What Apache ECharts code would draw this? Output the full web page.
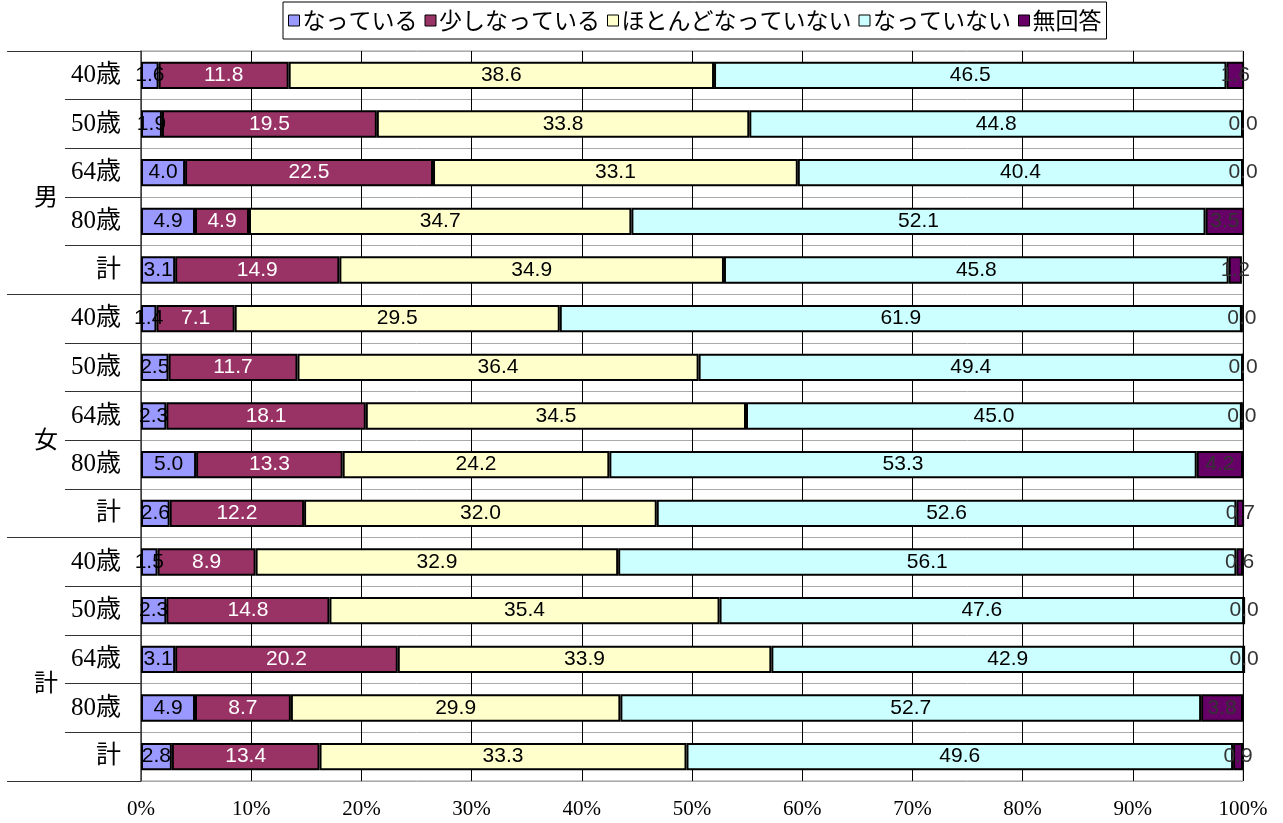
<!DOCTYPE html>
<html>
<head>
<meta charset="utf-8">
<script src="https://cdn.jsdelivr.net/npm/echarts@6/dist/echarts.min.js"></script>
<style>
  html, body { margin: 0; padding: 0; background: #fff; }
  #chart { width: 1283px; height: 823px; }
</style>
</head>
<body>
<div id="chart"></div>
<script>
// 年齢区分（上から順）
const ages = ['40歳', '50歳', '64歳', '80歳', '計',
              '40歳', '50歳', '64歳', '80歳', '計',
              '40歳', '50歳', '64歳', '80歳', '計'];
const groups = ['男', '女', '計'];
const seriesNames = ['なっている', '少しなっている', 'ほとんどなっていない', 'なっていない', '無回答'];
const xTicks = [0, 10, 20, 30, 40, 50, 60, 70, 80, 90, 100];

// 各回答の割合（%）
const natteiru      = [1.6, 1.9, 4.0, 4.9, 3.1,  1.4, 2.5, 2.3, 5.0, 2.6,  1.5, 2.3, 3.1, 4.9, 2.8];
const sukoshi       = [11.8, 19.5, 22.5, 4.9, 14.9,  7.1, 11.7, 18.1, 13.3, 12.2,  8.9, 14.8, 20.2, 8.7, 13.4];
const hotondo       = [38.6, 33.8, 33.1, 34.7, 34.9,  29.5, 36.4, 34.5, 24.2, 32.0,  32.9, 35.4, 33.9, 29.9, 33.3];
const natteinai     = [46.5, 44.8, 40.4, 52.1, 45.8,  61.9, 49.4, 45.0, 53.3, 52.6,  56.1, 47.6, 42.9, 52.7, 49.6];
const mukaitou      = [1.6, 0, 0, 3.5, 1.2,  0, 0, 0, 4.2, 0.7,  0.6, 0, 0, 3.8, 0.9];

const values = [natteiru, sukoshi, hotondo, natteinai, mukaitou];
const colors = ['#9999ff', '#993366', '#ffffcc', '#ccffff', '#660066'];
const labelColors = ['#000', '#fff', '#000', '#000', '#333'];

const serifFont = "'Liberation Serif', 'Noto Sans CJK JP', serif";
const cjkFont = "'Noto Sans CJK JP', sans-serif";

const chart = echarts.init(document.getElementById('chart'));

const series = seriesNames.map((name, i) => ({
  name: name,
  type: 'bar',
  stack: 'total',
  barWidth: '56%',
  clip: false,
  data: values[i],
  itemStyle: { color: colors[i], borderColor: '#000', borderWidth: 2 },
  label: {
    show: true,
    position: 'inside',
    color: labelColors[i],
    fontFamily: "'Liberation Sans', Arial, sans-serif",
    fontSize: 21,
    formatter: p => p.value.toFixed(1)
  },
  emphasis: { disabled: true }
}));

chart.setOption({
  animation: false,
  legend: {
    data: seriesNames,
    top: 2,
    left: 283,
    itemWidth: 11,
    itemHeight: 11,
    itemGap: 7,
    padding: [7, 5],
    borderColor: '#000',
    borderWidth: 1,
    icon: 'rect',
    itemStyle: { borderColor: '#000', borderWidth: 1 },
    textStyle: { fontFamily: cjkFont, fontSize: 23, color: '#000', padding: [0, 0, 0, -2] }
  },
  grid: {
    left: 141,
    right: 40,
    top: 51,
    bottom: 42,
    show: true,
    borderColor: '#999',
    borderWidth: 1
  },
  xAxis: {
    type: 'value',
    min: 0,
    max: 100,
    interval: 10,
    axisLine: { show: false },
    axisTick: { show: false },
    splitLine: { show: true, lineStyle: { color: '#000', width: 1 } },
    axisLabel: {
      color: '#000',
      fontFamily: serifFont,
      fontSize: 21,
      margin: 18,
      formatter: v => xTicks.includes(v) ? v + '%' : ''
    }
  },
  yAxis: [
    {
      type: 'category',
      data: ages,
      inverse: true,
      axisLine: { show: true, lineStyle: { color: '#555', width: 1.5 } },
      axisTick: { show: true, length: 76, lineStyle: { color: '#333' } },
      splitLine: { show: true, lineStyle: { color: '#aaa', width: 1 } },
      axisLabel: {
        color: '#000',
        fontFamily: serifFont,
        fontSize: 25,
        margin: 20
      }
    },
    {
      type: 'category',
      data: groups,
      inverse: true,
      position: 'left',
      axisLine: { show: false },
      axisTick: { show: true, length: 134, lineStyle: { color: '#333' } },
      splitLine: { show: false },
      axisLabel: {
        color: '#000',
        fontFamily: cjkFont,
        fontSize: 24,
        margin: 83,
        verticalAlign: 'top',
        lineHeight: 46
      }
    }
  ],
  series: series
});
</script>
</body>
</html>
